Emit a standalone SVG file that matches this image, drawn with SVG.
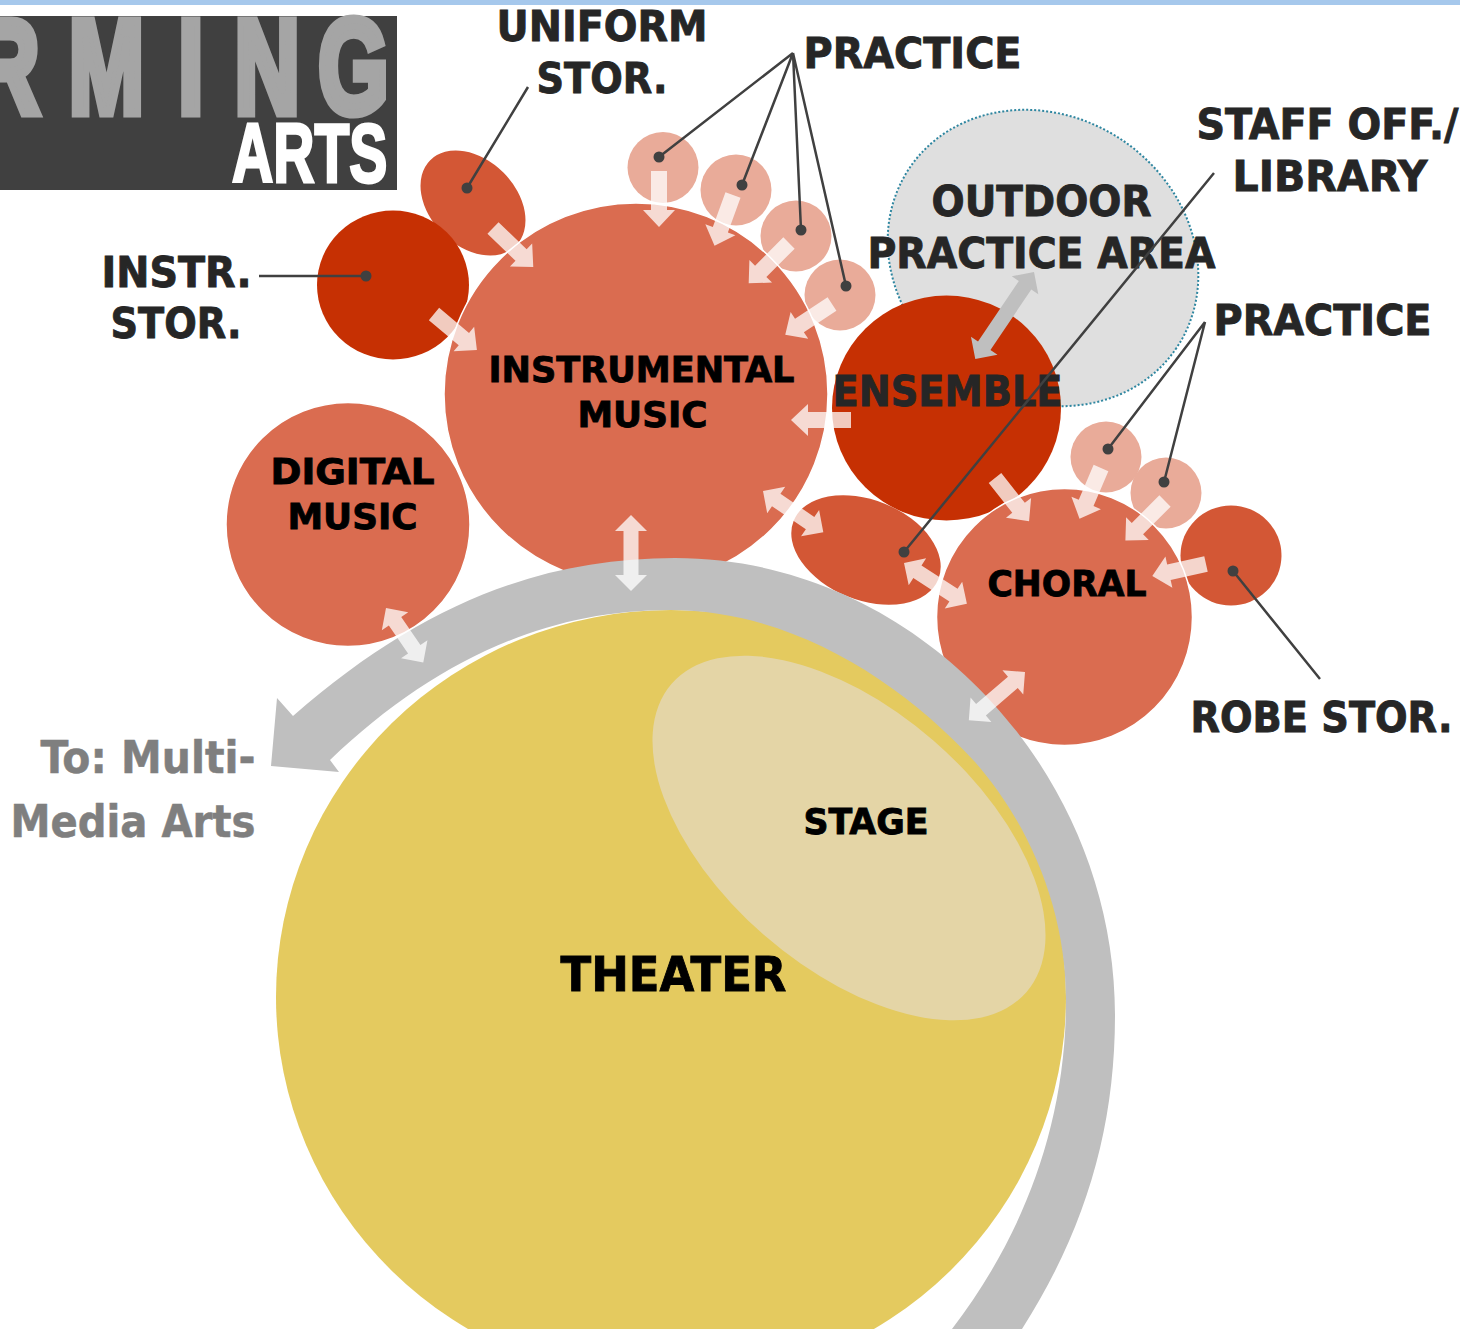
<svg xmlns="http://www.w3.org/2000/svg" width="1460" height="1329" viewBox="0 0 1460 1329">
<style>
text{font-family:"DejaVu Sans",Verdana,sans-serif;font-weight:700;font-stretch:condensed}
.l{fill:#262626;stroke:#262626;stroke-width:.8px;font-size:42px}
.k{fill:#000;stroke:#000;stroke-width:.8px;font-size:36px}
.g{fill:#7f7f7f;stroke:#7f7f7f;stroke-width:.5px;font-size:44px}
.logo{font-family:"Liberation Sans",Arial,sans-serif;font-stretch:normal}
.m{fill:#d35735}.r{fill:#c63003}.o{fill:#da6c50;stroke:#fff;stroke-width:1.5}.p{fill:#e9ab99}
.w{fill:#fff;fill-opacity:.75}
.ln{stroke:#404040;stroke-width:2.5;fill:none}
.dot{fill:#404040}
</style>
<rect width="1460" height="5" fill="#a6c8ec"/>
<g id="logo">
<rect x="0" y="16" width="397" height="174" fill="#404040"/>
<text class="logo" transform="translate(0,112.500) scale(.68,1)" font-size="133" fill="#a5a5a5" stroke="#a5a5a5" stroke-width="9" x="-38 101 262 345 468">RMING</text>
<text class="logo" transform="translate(232,181.500) scale(.68,1)" font-size="84" fill="#fff" stroke="#fff" stroke-width="3">ARTS</text>
</g>
<g id="outdoor-practice-area">
<ellipse cx="1043" cy="258" rx="161" ry="142" transform="rotate(34 1043 258)" fill="#dfdfdf" stroke="#2e86a0" stroke-width="2" stroke-dasharray="2 2"/>
<text class="l" x="931.500" y="216" textLength="220" lengthAdjust="spacingAndGlyphs">OUTDOOR</text>
<text class="l" x="867.500" y="268" textLength="348" lengthAdjust="spacingAndGlyphs">PRACTICE AREA</text>
</g>
<g id="uniform-storage"><ellipse class="m" cx="473" cy="203" rx="60.500" ry="43" transform="rotate(45 473 203)"/></g>
<g id="practice-1"><circle class="p" cx="663" cy="167.500" r="35.500"/></g>
<g id="practice-2"><circle class="p" cx="736" cy="190" r="35.500"/></g>
<g id="practice-3"><circle class="p" cx="796" cy="236" r="35.500"/></g>
<g id="practice-4"><circle class="p" cx="840" cy="295" r="35.500"/></g>
<g id="instrument-storage"><ellipse class="r" cx="393" cy="285" rx="76" ry="74.500"/></g>
<g id="ensemble">
<ellipse class="r" cx="946.500" cy="408" rx="114.500" ry="112.500"/>
<text class="l" x="832.500" y="406" textLength="230" lengthAdjust="spacingAndGlyphs">ENSEMBLE</text>
</g>
<g id="instrumental-music">
<ellipse class="o" cx="636" cy="394" rx="192" ry="191"/>
<text class="k" x="488.500" y="382" textLength="306" lengthAdjust="spacingAndGlyphs">INSTRUMENTAL</text>
<text class="k" x="577.500" y="427" textLength="130" lengthAdjust="spacingAndGlyphs">MUSIC</text>
</g>
<g id="digital-music">
<circle class="o" cx="348" cy="524.500" r="122"/>
<text class="k" x="270.500" y="484" textLength="164" lengthAdjust="spacingAndGlyphs">DIGITAL</text>
<text class="k" x="287.500" y="529" textLength="130" lengthAdjust="spacingAndGlyphs">MUSIC</text>
</g>
<g id="practice-5"><circle class="p" cx="1106" cy="457" r="35.500"/></g>
<g id="practice-6"><circle class="p" cx="1166" cy="493" r="35.500"/></g>
<g id="robe-storage"><ellipse class="m" cx="1231" cy="555.500" rx="50.500" ry="50"/></g>
<g id="staff-office"><ellipse class="m" cx="866" cy="550" rx="78" ry="50" transform="rotate(22 866 550)"/></g>
<g id="choral">
<ellipse class="o" cx="1064.500" cy="617" rx="128" ry="128.500"/>
<text class="k" x="987.500" y="596" textLength="159" lengthAdjust="spacingAndGlyphs">CHORAL</text>
</g>
<g id="theater">
<ellipse cx="671" cy="997" rx="395" ry="387" fill="#e4ca5f"/>
<ellipse cx="849" cy="838" rx="235" ry="129" transform="rotate(41 849 838)" fill="#e4d5a6"/>
<text class="k" x="803.500" y="834" textLength="125" lengthAdjust="spacingAndGlyphs">STAGE</text>
<text class="k" x="560.500" y="991" textLength="226" lengthAdjust="spacingAndGlyphs" style="font-size:48px">THEATER</text>
</g>
<g id="flow-ring">
<path fill="#bfbfbf" d="M1022 1329C1085 1230 1115 1130 1115 1015C1115 770 915 558 675 558C540 558 420 605 293 716L277 698L271 766L339 772L330 760C430 665 540 610 670 610C790 610 900 680 975 762C1030 825 1066 910 1066 1000C1066 1130 1020 1240 952 1329Z"/>
</g>
<g id="connectors">
<g id="leaders">
<path class="ln" d="M528 87L467 188M259 276H366M793 53L659 157M793 53L742 185M793 53L801 230M793 53L846 286M1214 173L904 552M1205 322L1108 449M1205 322L1164 482M1320 679L1233 571"/>
<g class="dot"><circle cx="467" cy="188" r="5.500"/><circle cx="366" cy="276" r="5.500"/><circle cx="659" cy="157" r="5.500"/><circle cx="742" cy="185" r="5.500"/><circle cx="801" cy="230" r="5.500"/><circle cx="846" cy="286" r="5.500"/><circle cx="904" cy="552" r="5.500"/><circle cx="1108" cy="449" r="5.500"/><circle cx="1164" cy="482" r="5.500"/><circle cx="1233" cy="571" r="5.500"/></g>
</g>
<g id="arrows" class="w">
<path transform="translate(434 314) rotate(40)" d="M0-8H39V-16L56 0L39 16V8H0Z"/>
<path transform="translate(493 228) rotate(44)" d="M0-8H39V-16L56 0L39 16V8H0Z"/>
<path transform="translate(659 171) rotate(90)" d="M0-8H39V-16L56 0L39 16V8H0Z"/>
<path transform="translate(733 195) rotate(110)" d="M0-8H37V-16L54 0L37 16V8H0Z"/>
<path transform="translate(789 243) rotate(135)" d="M0-8H40V-16L57 0L40 16V8H0Z"/>
<path transform="translate(832 304) rotate(146.600)" d="M0-8H39V-16L56 0L39 16V8H0Z"/>
<path transform="translate(851 420) rotate(180)" d="M0-8H43V-16L60 0L43 16V8H0Z"/>
<path transform="translate(995 478) rotate(51.700)" d="M0-8H38V-16L55 0L38 16V8H0Z"/>
<path transform="translate(1101 468) rotate(113)" d="M0-8H38V-16L55 0L38 16V8H0Z"/>
<path transform="translate(1165 501) rotate(135)" d="M0-8H39V-16L56 0L39 16V8H0Z"/>
<path transform="translate(1206 564) rotate(167.500)" d="M0-8H38V-16L55 0L38 16V8H0Z"/>
<path transform="translate(763 491) rotate(34.300)" d="M0 0L16-16V-7.500H57V-16L73 0L57 16V7.500H16V16Z"/>
<path transform="translate(904 563) rotate(33)" d="M0 0L16-16V-7.500H59V-16L75 0L59 16V7.500H16V16Z"/>
<path transform="translate(1025 672) rotate(139.400)" d="M0 0L16-16V-7.500H58V-16L74 0L58 16V7.500H16V16Z"/>
<path transform="translate(631 515) rotate(90)" d="M0 0L16-16V-7.500H60V-16L76 0L60 16V7.500H16V16Z"/>
<path transform="translate(386 608) rotate(55.600)" d="M0 0L16-16V-7.500H50V-16L66 0L50 16V7.500H16V16Z"/>
<path transform="translate(1034 272) rotate(124)" style="fill:#bfbfbf;fill-opacity:1" d="M0 0L16-16V-7.500H89V-16L105 0L89 16V7.500H16V16Z"/>
</g>
</g>
<g id="labels">
<text class="l" x="496.500" y="41" textLength="211" lengthAdjust="spacingAndGlyphs">UNIFORM</text>
<text class="l" x="536.500" y="93" textLength="131" lengthAdjust="spacingAndGlyphs">STOR.</text>
<text class="l" x="803.500" y="68" textLength="218" lengthAdjust="spacingAndGlyphs">PRACTICE</text>
<text class="l" x="1196.500" y="139" textLength="262" lengthAdjust="spacingAndGlyphs">STAFF OFF./</text>
<text class="l" x="1232.500" y="191" textLength="195" lengthAdjust="spacingAndGlyphs">LIBRARY</text>
<text class="l" x="1213.500" y="335" textLength="218" lengthAdjust="spacingAndGlyphs">PRACTICE</text>
<text class="l" x="101.500" y="287" textLength="150" lengthAdjust="spacingAndGlyphs">INSTR.</text>
<text class="l" x="110.500" y="338" textLength="131" lengthAdjust="spacingAndGlyphs">STOR.</text>
<text class="l" x="1190.500" y="732" textLength="262" lengthAdjust="spacingAndGlyphs">ROBE STOR.</text>
<text class="g" x="40.500" y="773" textLength="215" lengthAdjust="spacingAndGlyphs">To: Multi-</text>
<text class="g" x="10.500" y="837" textLength="245" lengthAdjust="spacingAndGlyphs">Media Arts</text>
</g>
</svg>
